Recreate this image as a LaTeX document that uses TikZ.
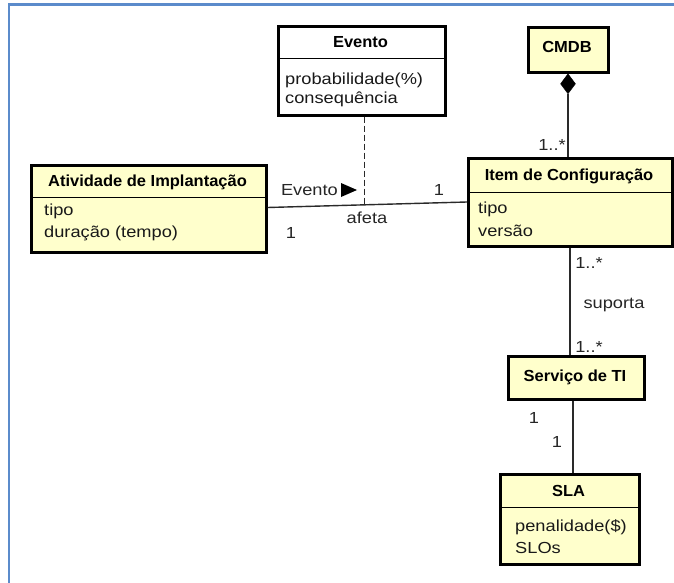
\documentclass[tikz,border=0pt]{standalone}
\usepackage{fontspec}
\setmainfont{Liberation Sans}[FakeStretch=1.14]
\newfontfamily\headfont{Liberation Sans}[FakeStretch=1.03]
\usetikzlibrary{shapes.geometric,calc}

\definecolor{classfill}{HTML}{FFFFCC}
\definecolor{frameblue}{HTML}{5B8BCB}
\definecolor{linkgray}{HTML}{2A2A2A}

\tikzset{
  classbox/.style={draw=black, line width=2.6pt, inner sep=0pt, anchor=north west},
  headtext/.style={font=\headfont\bfseries\fontsize{16}{18}\selectfont, inner sep=0pt},
  attrtext/.style={font=\fontsize{16}{18}\selectfont, inner sep=0pt, anchor=west, text=black!90},
  multlabel/.style={font=\fontsize{16}{18}\selectfont, inner sep=0pt, text=black!85},
  sepline/.style={draw=black, line width=1pt},
  link/.style={draw=linkgray, line width=1.4pt},
  dashlink/.style={draw=linkgray, line width=1.3pt, dash pattern=on 6pt off 3pt}
}

\begin{document}
\begin{tikzpicture}[x=1pt, y=-1pt]
  \useasboundingbox (0,0) rectangle (674,583);
  \fill[white] (0,0) rectangle (674,583);

  % outer frame (top and left edges)
  \draw[frameblue, line width=2.8pt] (9,583) -- (9,4.5) -- (674,4.5);

  % ---- Evento ----
  \node[classbox, fill=white, minimum width=167pt, minimum height=89pt] (evento) at (277,25) {};
  \draw[sepline] (277,59) -- (444,59);
  \node[headtext] (eventoH) at (360.5,42) {Evento};
  \node[attrtext] (eventoA1) at (285,80) {probabilidade(\%)};
  \node[attrtext] (eventoA2) at (285,99) {consequência};

  % ---- CMDB ----
  \node[classbox, fill=classfill, minimum width=80pt, minimum height=45pt] (cmdb) at (527,26) {};
  \node[headtext] (cmdbH) at (567,47) {CMDB};

  % ---- Item de Configuração ----
  \node[classbox, fill=classfill, minimum width=204pt, minimum height=88pt] (item) at (467,157) {};
  \draw[sepline] (467,192) -- (671,192);
  \node[headtext] (itemH) at (569,176) {Item de Configuração};
  \node[attrtext] (itemA1) at (478,209) {tipo};
  \node[attrtext] (itemA2) at (478,231) {versão};

  % ---- Atividade de Implantação ----
  \node[classbox, fill=classfill, minimum width=235pt, minimum height=87pt] (ativ) at (30,164) {};
  \draw[sepline] (30,197) -- (265,197);
  \node[headtext] (ativH) at (147.5,182) {Atividade de Implantação};
  \node[attrtext] (ativA1) at (44,211) {tipo};
  \node[attrtext] (ativA2) at (44,233) {duração (tempo)};

  % ---- Serviço de TI ----
  \node[classbox, fill=classfill, minimum width=136pt, minimum height=43pt] (servico) at (507,355) {};
  \node[headtext] (servicoH) at (575,377) {Serviço de TI};

  % ---- SLA ----
  \node[classbox, fill=classfill, minimum width=139pt, minimum height=90pt] (sla) at (499,473) {};
  \draw[sepline] (499,507) -- (638,507);
  \node[headtext] (slaH) at (568.5,491) {SLA};
  \node[attrtext] (slaA1) at (515,527) {penalidade(\$)};
  \node[attrtext] (slaA2) at (515,548) {SLOs};

  % ---- composition CMDB <>-- Item ----
  \node[diamond, fill=black, draw=black, inner sep=0pt, minimum width=15pt, minimum height=20pt,
        anchor=north] (comp) at (cmdb.south -| 568,0) {};
  \draw[link] (comp.south) -- (comp.south |- item.north);
  \node[multlabel] (m1) at (552,145) {1..*};

  % ---- association Atividade -- Item (afeta) ----
  \coordinate (ativE) at ([yshift=-43.5pt]ativ.north east);
  \coordinate (itemW) at ([yshift=-45pt]item.north west);
  \draw[link] (ativE) -- (itemW);
  \coordinate (assocMid) at ($(ativE)!0.485!(itemW)$);
  \draw[dashlink] (evento.south -| assocMid) -- (assocMid);
  \node[multlabel, anchor=east] (evLbl) at (338,190) {Evento};
  \fill[black] (341,183) -- (341,197) -- (357,190) -- cycle;
  \node[multlabel] (afeta) at (367,218) {afeta};
  \node[multlabel] (m2) at (439,190) {1};
  \node[multlabel] (m3) at (291,233) {1};

  % ---- association Item -- Serviço (suporta) ----
  \draw[link] (item.south -| 570,0) -- (servico.north -| 570,0);
  \node[multlabel] (m4) at (589,263) {1..*};
  \node[multlabel] (suporta) at (614,305) {suporta};
  \node[multlabel] (m5) at (589,347) {1..*};

  % ---- association Serviço -- SLA ----
  \draw[link] (servico.south -| 573,0) -- (sla.north -| 573,0);
  \node[multlabel] (m6) at (534,418) {1};
  \node[multlabel] (m7) at (557,442) {1};
\end{tikzpicture}
\end{document}
